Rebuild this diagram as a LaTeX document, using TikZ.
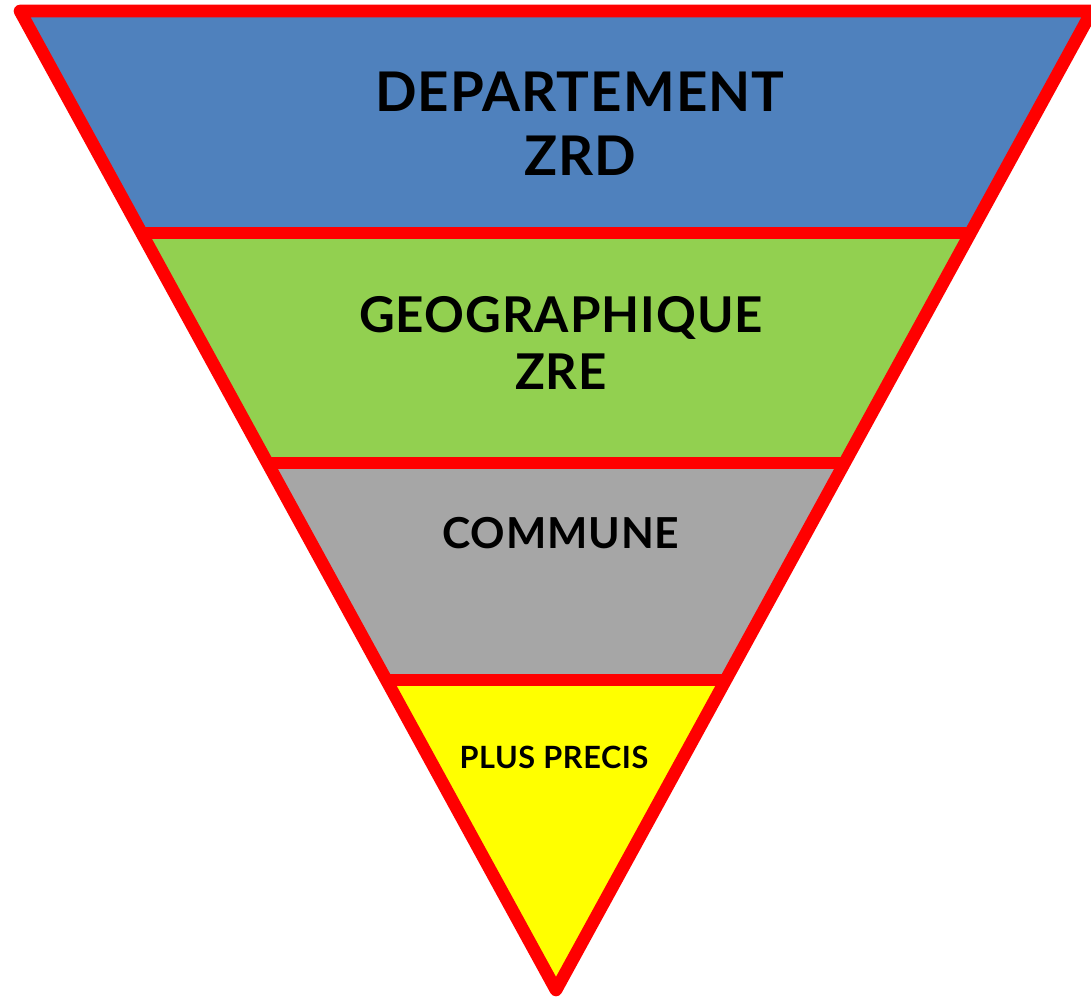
\documentclass[tikz,border=0pt]{standalone}
\usepackage{fontspec}
\newfontfamily\pyrfont[LetterSpace=2]{Lato}
\usepackage{tikz}

\definecolor{zrdblue}{HTML}{4F81BD}
\definecolor{zregreen}{HTML}{92D050}
\definecolor{comgray}{HTML}{A6A6A6}
\definecolor{precyellow}{HTML}{FFFF00}

\begin{document}
\begin{tikzpicture}[x=0.75pt,y=-0.75pt]

\tikzstyle{edge}=[draw=red,line width=9.5pt,line join=round]
\tikzstyle{label}=[align=center,text=black,inner sep=0pt]
\tikzstyle{big}=[label,font=\pyrfont\bfseries\fontsize{41}{48}\selectfont]
\tikzstyle{mid}=[label,font=\pyrfont\bfseries\fontsize{37}{43}\selectfont]
\tikzstyle{com}=[label,font=\pyrfont\bfseries\fontsize{32}{38}\selectfont]
\tikzstyle{small}=[label,font=\pyrfont\bfseries\fontsize{23}{28}\selectfont]

\useasboundingbox (0,0) rectangle (1091,1003);

% corners of the triangle and ends of the bands
\coordinate (tl) at (20,11);
\coordinate (tr) at (1092,11);
\coordinate (tip) at (556,990);
\coordinate (l1) at (142,233);
\coordinate (r1) at (970,233);
\coordinate (l2) at (268,463);
\coordinate (r2) at (844,463);
\coordinate (l3) at (387,680);
\coordinate (r3) at (725,680);

\fill[zrdblue] (tl) -- (tr) -- (r1) -- (l1) -- cycle;
\fill[zregreen] (l1) -- (r1) -- (r2) -- (l2) -- cycle;
\fill[comgray] (l2) -- (r2) -- (r3) -- (l3) -- cycle;
\fill[precyellow] (l3) -- (r3) -- (tip) -- cycle;

\draw[edge] (l1) -- (r1);
\draw[edge] (l2) -- (r2);
\draw[edge] (l3) -- (r3);
\draw[edge] (tl) -- (tr) -- (tip) -- cycle;

\node[big] (dep) at (580,124) {DEPARTEMENT\\ZRD};
\node[mid] (geo) at (561,343) {GEOGRAPHIQUE\\ZRE};
\node[com] (com) at (561,533) {COMMUNE};
\node[small] (prec) at (554,757) {PLUS PRECIS};
\end{tikzpicture}
\end{document}
